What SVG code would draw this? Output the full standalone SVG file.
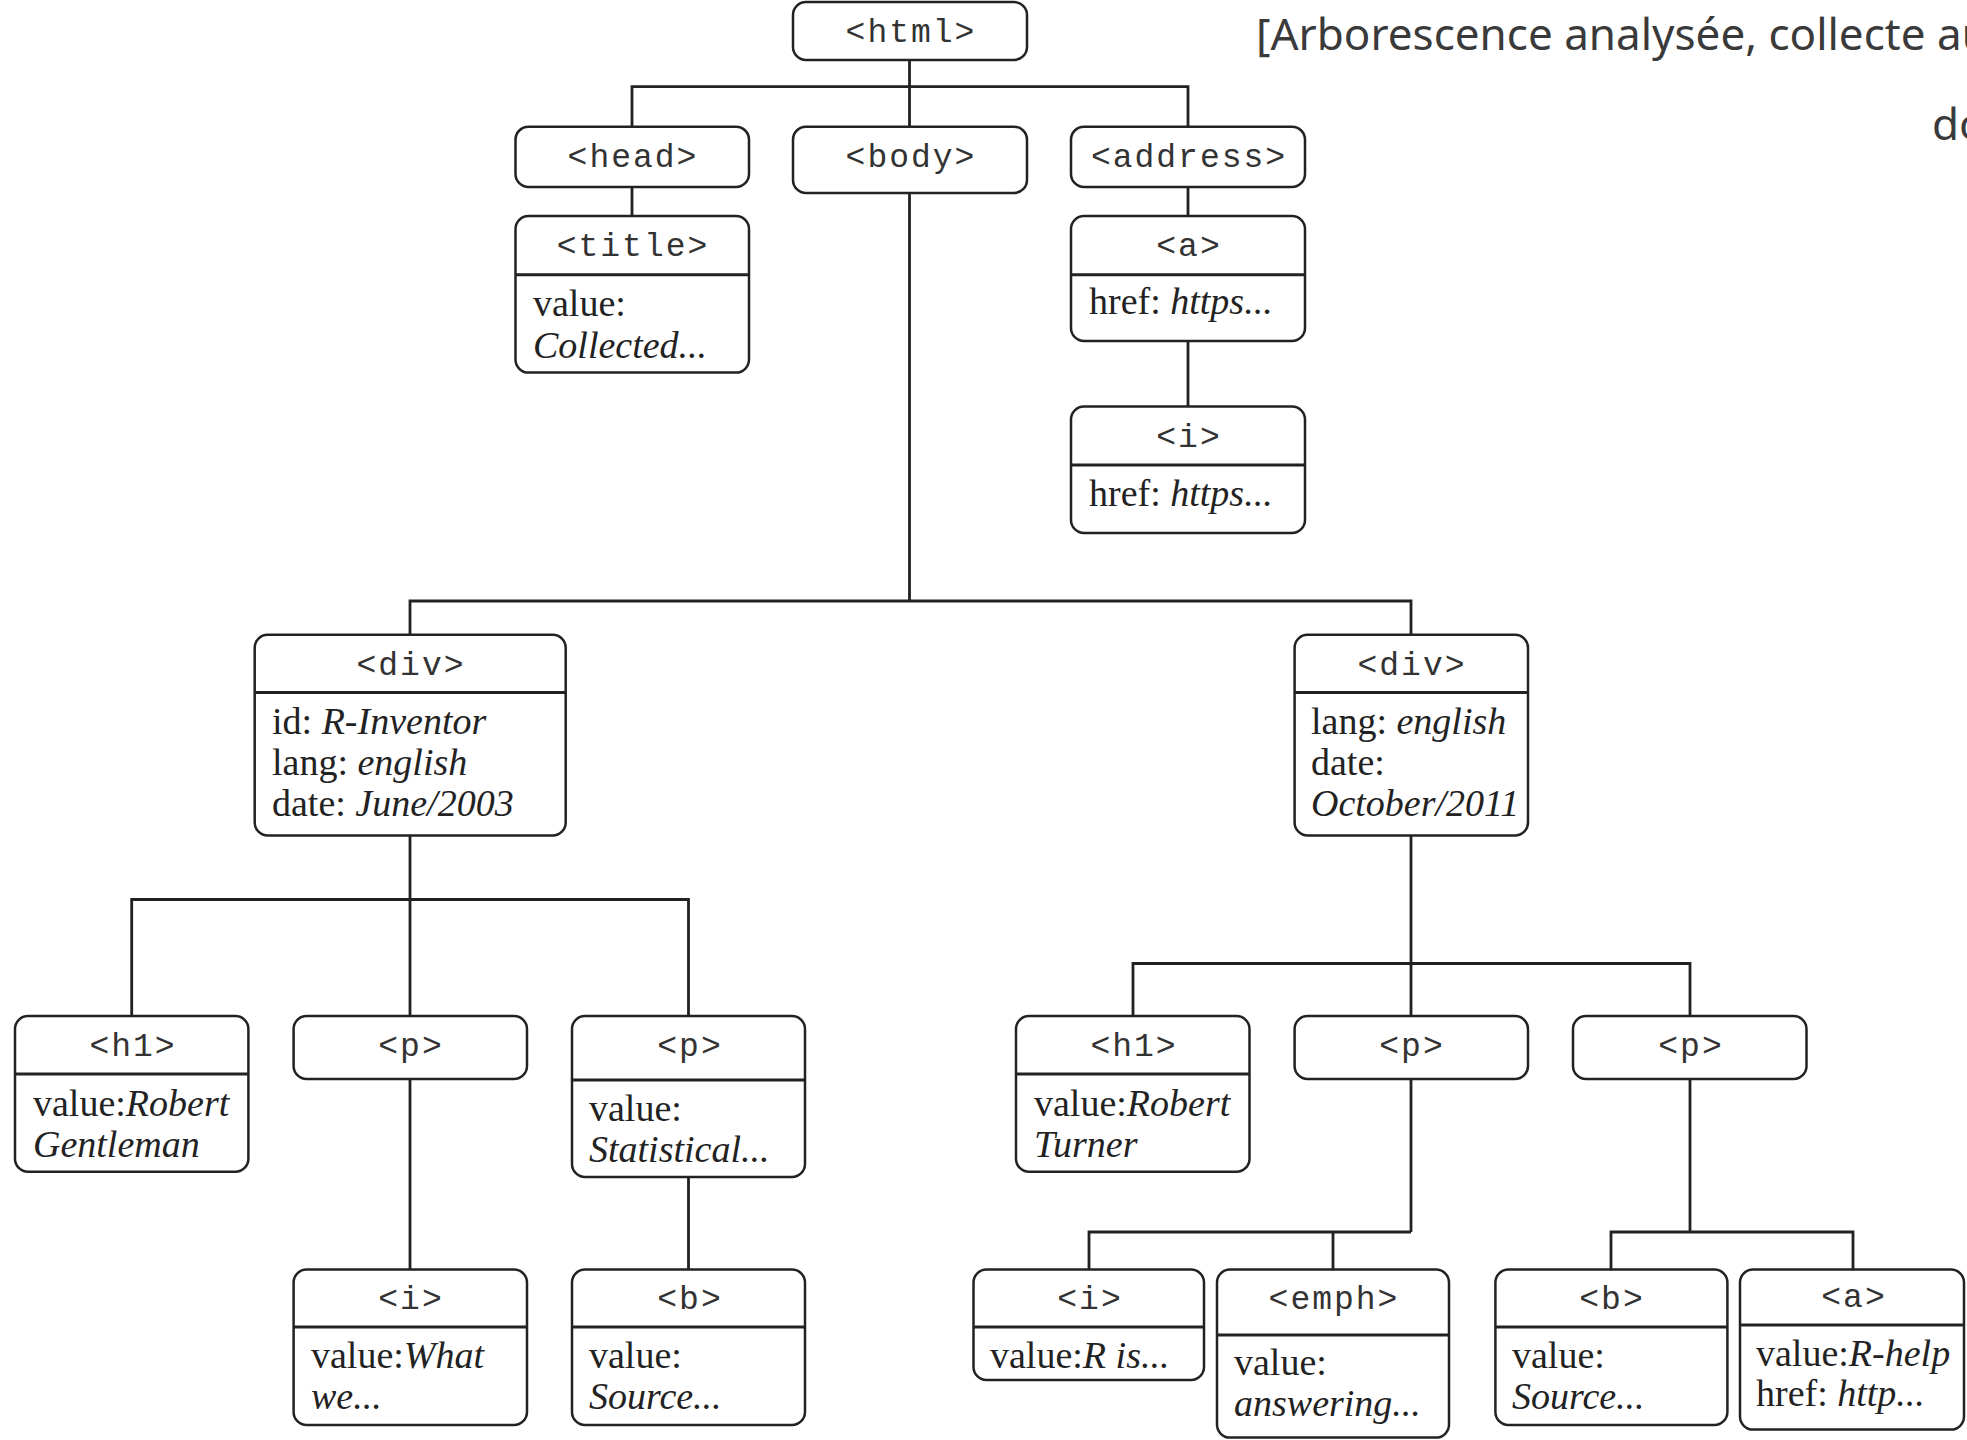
<svg xmlns="http://www.w3.org/2000/svg" width="1967" height="1440" viewBox="0 0 1967 1440">
<style>
.box{fill:#fff;stroke:#222;stroke-width:2.5}
.div{stroke:#222;stroke-width:3}
.con{fill:none;stroke:#222;stroke-width:2.8}
.tag{font-family:"Liberation Mono",monospace;font-size:33px;letter-spacing:2px;fill:#333;text-anchor:middle}
.val{font-family:"Liberation Serif",serif;font-size:38px;fill:#222}
.it{font-style:italic}
.title{font-family:"Noto Sans",sans-serif;font-size:44px;fill:#3a3a3a}
</style>
<rect width="1967" height="1440" fill="#fff"/>
<g id="title">
<text class="title" x="1256" y="50">[Arborescence analysée, collecte au</text>
<text class="title" x="1932" y="140">do</text>
</g>
<g id="connectors">
<path class="con" d="M909.5 60V86.6M632 126.7V86.6H1188V126.7M909.5 86.6V126.7"/>
<path class="con" d="M632 187V216M1188 187V216M1188 341V406.5"/>
<path class="con" d="M909.5 193V601M410 634.8V601H1411V634.8"/>
<path class="con" d="M410 835.5V899.5M131.7 1016V899.5H688.5V1016M410 899.5V1016"/>
<path class="con" d="M410 1079V1269.6M688.5 1177V1269.6"/>
<path class="con" d="M1411 835.5V963.5M1133 1016V963.5H1690V1016M1411 963.5V1016"/>
<path class="con" d="M1411 1079V1232M1089 1269.6V1232H1411M1333 1232V1269.6"/>
<path class="con" d="M1690 1079V1232M1611 1269.6V1232H1853V1269.6"/>
</g>
<g id="n-html"><rect class="box" x="793" y="2" width="234" height="58" rx="13"/><text class="tag" x="911" y="42">&lt;html&gt;</text></g>
<g id="n-head"><rect class="box" x="515.5" y="126.7" width="233.5" height="60.3" rx="13"/><text class="tag" x="633" y="167">&lt;head&gt;</text></g>
<g id="n-body"><rect class="box" x="793" y="126.7" width="234" height="66.3" rx="13"/><text class="tag" x="911" y="167">&lt;body&gt;</text></g>
<g id="n-address"><rect class="box" x="1071" y="126.7" width="234" height="60.3" rx="13"/><text class="tag" x="1189" y="167">&lt;address&gt;</text></g>
<g id="n-title"><rect class="box" x="515.5" y="216" width="233.5" height="156.6" rx="13"/><line class="div" x1="515.5" y1="274.7" x2="749" y2="274.7"/><text class="tag" x="633" y="256">&lt;title&gt;</text><text class="val" x="533" y="316">value:</text><text class="val it" x="533" y="357.5">Collected...</text></g>
<g id="n-a1"><rect class="box" x="1071" y="216" width="234" height="125" rx="13"/><line class="div" x1="1071" y1="274.7" x2="1305" y2="274.7"/><text class="tag" x="1189" y="256">&lt;a&gt;</text><text class="val" x="1089" y="314">href: <tspan class="it">https...</tspan></text></g>
<g id="n-i1"><rect class="box" x="1071" y="406.5" width="234" height="126.5" rx="13"/><line class="div" x1="1071" y1="465" x2="1305" y2="465"/><text class="tag" x="1189" y="447">&lt;i&gt;</text><text class="val" x="1089" y="506">href: <tspan class="it">https...</tspan></text></g>
<g id="n-div1"><rect class="box" x="254.7" y="634.8" width="311" height="200.7" rx="13"/><line class="div" x1="254.7" y1="692.5" x2="565.7" y2="692.5"/><text class="tag" x="411" y="675">&lt;div&gt;</text><text class="val" x="272" y="734">id: <tspan class="it">R-Inventor</tspan></text><text class="val" x="272" y="775">lang: <tspan class="it">english</tspan></text><text class="val" x="272" y="816">date: <tspan class="it">June/2003</tspan></text></g>
<g id="n-div2"><rect class="box" x="1294.6" y="634.8" width="233.4" height="200.7" rx="13"/><line class="div" x1="1294.6" y1="692.5" x2="1528" y2="692.5"/><text class="tag" x="1412" y="675">&lt;div&gt;</text><text class="val" x="1311" y="734">lang: <tspan class="it">english</tspan></text><text class="val" x="1311" y="775">date:</text><text class="val it" x="1311" y="816">October/2011</text></g>
<g id="n-h1a"><rect class="box" x="15" y="1016" width="233.4" height="155.7" rx="13"/><line class="div" x1="15" y1="1074" x2="248.4" y2="1074"/><text class="tag" x="133" y="1056">&lt;h1&gt;</text><text class="val" x="33" y="1116">value:<tspan class="it">Robert</tspan></text><text class="val it" x="33" y="1157">Gentleman</text></g>
<g id="n-p1"><rect class="box" x="293.6" y="1016" width="233.4" height="63" rx="13"/><text class="tag" x="411" y="1056">&lt;p&gt;</text></g>
<g id="n-p2"><rect class="box" x="572" y="1016" width="233" height="161" rx="13"/><line class="div" x1="572" y1="1080" x2="805" y2="1080"/><text class="tag" x="690" y="1056">&lt;p&gt;</text><text class="val" x="589" y="1121">value:</text><text class="val it" x="589" y="1162">Statistical...</text></g>
<g id="n-i2"><rect class="box" x="293.6" y="1269.6" width="233.4" height="155.4" rx="13"/><line class="div" x1="293.6" y1="1327" x2="527" y2="1327"/><text class="tag" x="411" y="1309">&lt;i&gt;</text><text class="val" x="311" y="1368">value:<tspan class="it">What</tspan></text><text class="val it" x="311" y="1409">we...</text></g>
<g id="n-b1"><rect class="box" x="572" y="1269.6" width="233" height="155.4" rx="13"/><line class="div" x1="572" y1="1327" x2="805" y2="1327"/><text class="tag" x="690" y="1309">&lt;b&gt;</text><text class="val" x="589" y="1368">value:</text><text class="val it" x="589" y="1409">Source...</text></g>
<g id="n-h1b"><rect class="box" x="1016" y="1016" width="233.5" height="155.7" rx="13"/><line class="div" x1="1016" y1="1074" x2="1249.5" y2="1074"/><text class="tag" x="1134" y="1056">&lt;h1&gt;</text><text class="val" x="1034" y="1116">value:<tspan class="it">Robert</tspan></text><text class="val it" x="1034" y="1157">Turner</text></g>
<g id="n-p3"><rect class="box" x="1294.6" y="1016" width="233.4" height="63" rx="13"/><text class="tag" x="1412" y="1056">&lt;p&gt;</text></g>
<g id="n-p4"><rect class="box" x="1573" y="1016" width="233.5" height="63" rx="13"/><text class="tag" x="1691" y="1056">&lt;p&gt;</text></g>
<g id="n-i3"><rect class="box" x="973.5" y="1269.6" width="230.5" height="110.4" rx="13"/><line class="div" x1="973.5" y1="1327" x2="1204" y2="1327"/><text class="tag" x="1090" y="1309">&lt;i&gt;</text><text class="val" x="990" y="1368">value:<tspan class="it">R is...</tspan></text></g>
<g id="n-emph"><rect class="box" x="1217" y="1269.6" width="232" height="168" rx="13"/><line class="div" x1="1217" y1="1335" x2="1449" y2="1335"/><text class="tag" x="1334" y="1309">&lt;emph&gt;</text><text class="val" x="1234" y="1375">value:</text><text class="val it" x="1234" y="1416">answering...</text></g>
<g id="n-b2"><rect class="box" x="1495.4" y="1269.6" width="232" height="155.4" rx="13"/><line class="div" x1="1495.4" y1="1327" x2="1727.4" y2="1327"/><text class="tag" x="1612" y="1309">&lt;b&gt;</text><text class="val" x="1512" y="1368">value:</text><text class="val it" x="1512" y="1409">Source...</text></g>
<g id="n-a2"><rect class="box" x="1740" y="1269.6" width="224" height="160" rx="13"/><line class="div" x1="1740" y1="1325" x2="1964" y2="1325"/><text class="tag" x="1854" y="1307">&lt;a&gt;</text><text class="val" x="1756" y="1366">value:<tspan class="it">R-help</tspan></text><text class="val" x="1756" y="1406">href: <tspan class="it">http...</tspan></text></g>
</svg>
